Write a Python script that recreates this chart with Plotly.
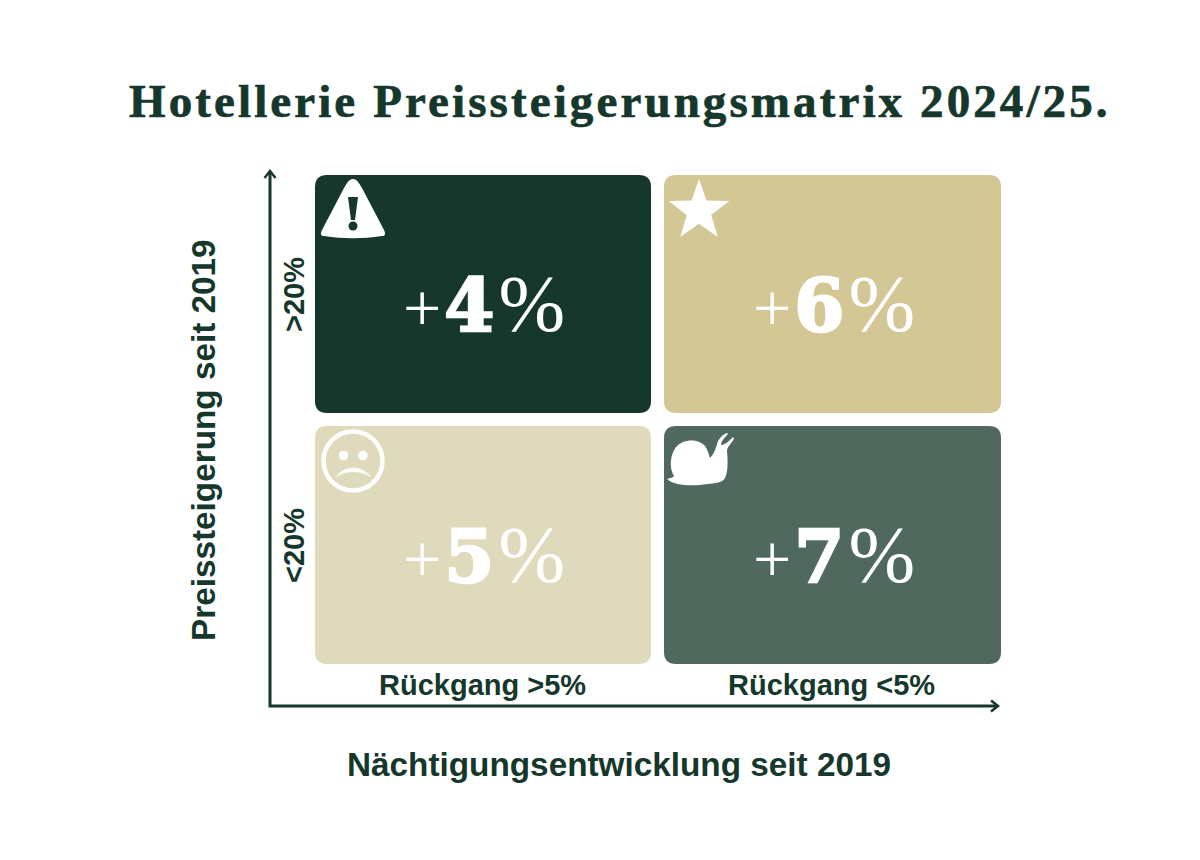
import math
import plotly.graph_objects as go

title = "Hotellerie Preissteigerungsmatrix 2024/25."
x_title = "Nächtigungsentwicklung seit 2019"
y_title = "Preissteigerung seit 2019"
col_labels = ["Rückgang >5%", "Rückgang <5%"]
row_labels = [">20%", "<20%"]
cell_values = [["4", "6"], ["5", "7"]]
cell_colors = [["#15372c", "#d2c795"], ["#e0dabc", "#50695e"]]

DARK = "#15372c"
col_x = [(315, 651), (664, 1001)]
row_y = [(175, 413), (426, 664)]
RADIUS = 12
PAGE_MARGIN = 8  # the browser's body margin pushes the plot this far


def rounded_rect(x0, y0, x1, y1, r):
    return (f"M{x0+r},{y0} L{x1-r},{y0} Q{x1},{y0} {x1},{y0+r} L{x1},{y1-r} Q{x1},{y1} {x1-r},{y1} "
            f"L{x0+r},{y1} Q{x0},{y1} {x0},{y1-r} L{x0},{y0+r} Q{x0},{y0} {x0+r},{y0} Z")


def circle(cx, cy, r, **kw):
    return dict(type="circle", x0=cx - r, x1=cx + r, y0=cy - r, y1=cy + r, **kw)


def star(cx, cy, r):
    pts = []
    for i in range(10):
        rad = r if i % 2 == 0 else r * 0.40
        a = -math.pi / 2 + i * math.pi / 5
        pts.append(f"{cx + rad * math.cos(a):.1f},{cy + rad * math.sin(a):.1f}")
    return "M" + " L".join(pts) + " Z"


fig = go.Figure()
shapes = []
for r, (y0, y1) in enumerate(row_y):
    for c, (x0, x1) in enumerate(col_x):
        shapes.append(dict(type="path", path=rounded_rect(x0, y0, x1, y1, RADIUS),
                           fillcolor=cell_colors[r][c], line_width=0, layer="below"))

# axes arrows
shapes.append(dict(type="path", path="M270,172 L270,706 L997,706", line=dict(color=DARK, width=3)))
shapes.append(dict(type="path", path="M264.5,178 L270,171 L275.5,178", line=dict(color=DARK, width=2.5)))
shapes.append(dict(type="path", path="M991,700.5 L998,706 L991,711.5", line=dict(color=DARK, width=2.5)))

# warning icon
shapes.append(dict(type="path",
                   path="M353,179 C357,179 359,183 362,188 L384,230 C386,234 385,236 382,236 "
                   "C362,239 344,239 324,236 C321,236 320,234 322,230 L344,188 C347,183 349,179 353,179 Z",
                   fillcolor="white", line_width=0))
shapes.append(dict(type="path", path="M348,197 L358,197 L355,220 L351,220 Z", fillcolor=cell_colors[0][0], line_width=0))
shapes.append(circle(353, 226, 4.5, fillcolor=cell_colors[0][0], line_width=0))

# star icon
shapes.append(dict(type="path", path=star(699, 211, 32), fillcolor="white", line_width=0))

# sad face icon
shapes.append(circle(353, 461, 29.5, line=dict(color="white", width=4.5)))
shapes.append(circle(343.5, 455.5, 4.8, fillcolor="white", line_width=0))
shapes.append(circle(363, 455.5, 4.8, fillcolor="white", line_width=0))
shapes.append(dict(type="path", path="M336,477 C345,465 361,465 371,477 C361,470 345,470 336,477 Z",
                   fillcolor="white", line=dict(color="white", width=0.5)))

# snail icon
shapes.append(dict(type="path",
                   path="M667,479 C671,478 674,477 674,476 C669,468 670,455 676,447 C684,438 699,439 705,446 "
                   "C708,450 709,455 710,458 C714,454 716,448 718,441 C721,436 724,434 727,433 "
                   "L728,434 C724,438 721,442 721,445 C725,445 729,441 733,437 L734,439 "
                   "C731,444 727,447 727,451 C728,462 728,472 725,478 C722,483 716,483 700,485 "
                   "C688,486 673,485 667,479 Z",
                   fillcolor="white", line_width=0))

annotations = [
    dict(text=f"<span style='letter-spacing:3.1px;stroke:{DARK};stroke-width:0.7px'><b>{title}</b></span>", x=619.5, y=101,
         font=dict(family="Liberation Serif", size=47, color=DARK)),
    dict(text=f"<b>{x_title}</b>", x=619, y=764, font=dict(family="Liberation Sans", size=33.3, color=DARK)),
    dict(text=f"<b>{y_title}</b>", x=203, y=440, textangle=-90, font=dict(family="Liberation Sans", size=33.3, color=DARK)),
]

for c, (x0, x1) in enumerate(col_x):
    annotations.append(dict(text=f"<b>{col_labels[c]}</b>", x=(x0 + x1) / 2 - 0.5 - c, y=685,
                            font=dict(family="Liberation Sans", size=29, color=DARK)))
for r, (y0, y1) in enumerate(row_y):
    annotations.append(dict(text=f"<b>{row_labels[r]}</b>", x=294, y=(y0 + y1) / 2 + 1, textangle=-90,
                            font=dict(family="Liberation Sans", size=29, color=DARK)))
    for c, (x0, x1) in enumerate(col_x):
        plus = "<span style='font-size:68px;letter-spacing:3px'>+</span>"
        digit = ("<span style='font-family:DejaVu Serif;font-weight:bold;font-size:72px;"
                 f"letter-spacing:4px;stroke:white;stroke-width:2.5px'>{cell_values[r][c]}</span>")
        annotations.append(dict(text=f"{plus}{digit}%", x=(x0 + x1) / 2 + 1, y=(y0 + y1) / 2 + 10,
                                font=dict(family="Liberation Serif", size=80, color="white")))

for a in annotations:
    a.update(xref="x", yref="y", showarrow=False, xanchor="center", yanchor="middle")

fig.update_layout(
    width=1200, height=860,
    margin=dict(l=0, r=0, t=0, b=0),
    paper_bgcolor="white", plot_bgcolor="white",
    xaxis=dict(range=[PAGE_MARGIN, 1200 + PAGE_MARGIN], visible=False),
    yaxis=dict(range=[860 + PAGE_MARGIN, PAGE_MARGIN], visible=False),
    shapes=shapes, annotations=annotations, showlegend=False,
)

fig.write_html("out.html")
